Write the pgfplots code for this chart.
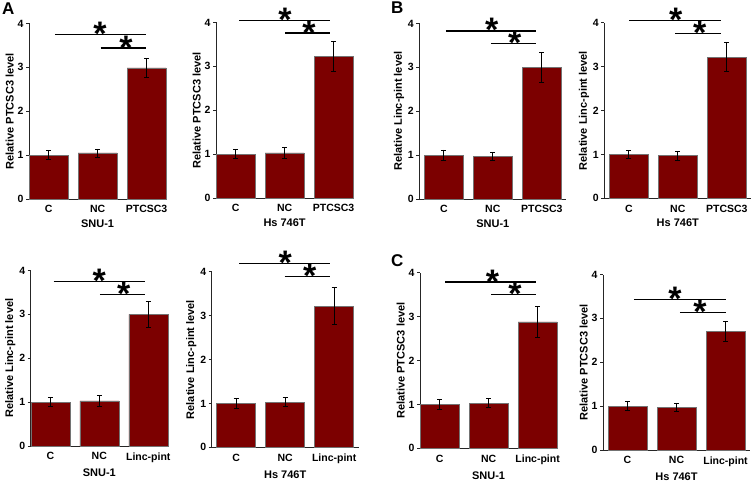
\documentclass[border=0pt]{standalone}
\usepackage{pgfplots}
\pgfplotsset{compat=1.18}
\usepackage{fontspec}
\setmainfont{Liberation Sans}
\definecolor{barred}{RGB}{124,0,0}
\pgfplotsset{
  panel/.style={
    scale only axis, height=175.5pt,
    ymin=0, ymax=4, ytick={0,1,2,3,4},
    xtick={0,1,2},
    axis x line*=bottom, axis y line*=left,
    axis line style={black!85, line width=0.9pt},
    tick align=outside,
    major tick length=3pt,
    x tick style={draw=none},
    y tick style={black!85, line width=0.8pt},
    clip=false,
    /pgf/number format/assume math mode=true,
    ticklabel style={font=\fontsize{10.5}{10.5}\selectfont\bfseries},
    yticklabel style={xshift=1pt},
    label style={font=\fontsize{11}{11}\selectfont\bfseries},
    ylabel style={yshift=-3pt},
    xlabel style={yshift=0pt},
  },
  narrow/.style={xmin=-0.4, xmax=2.4, width=137.2pt},
  wide/.style={xmin=-0.5, xmax=2.5, width=147pt},
  bars/.style={ybar, bar width=39pt, fill=barred, draw=black!55, line width=0.5pt,
    error bars/.cd, y dir=both, y explicit,
    error bar style={black, line width=0.7pt},
    error mark options={rotate=90, mark size=2.5pt, line width=0.7pt, black}},
  sig/.style={black, line width=1.2pt, no marks},
}
\newcommand{\sigstar}[2]{\node[font=\fontsize{34}{34}\selectfont\bfseries, anchor=base, yshift=-11pt] at (axis cs:#1,#2) {*};}
\begin{document}
\begin{tikzpicture}
\useasboundingbox (0pt,0pt) rectangle (753pt,492pt);
% Panel letters
\node[font=\fontsize{17}{17}\selectfont\bfseries, anchor=north west, inner sep=0pt] at (2pt,489pt) {A};
\node[font=\fontsize{17}{17}\selectfont\bfseries, anchor=north west, inner sep=0pt] at (391pt,490pt) {B};
\node[font=\fontsize{17}{17}\selectfont\bfseries, anchor=north west, inner sep=0pt] at (391pt,238pt) {C};

% P1
\begin{axis}[panel, narrow, at={(29pt,293pt)}, anchor=south west,
  xticklabels={C,NC,PTCSC3}, xlabel={SNU-1}, ylabel={Relative PTCSC3 level}]
\addplot[bars] coordinates {(0,1.00) +- (0,0.10) (1,1.05) +- (0,0.09) (2,2.99) +- (0,0.22)};
\addplot[sig] coordinates {(0.13,3.75) (1.99,3.75)};
\addplot[sig] coordinates {(1.06,3.44) (1.99,3.44)};
\sigstar{1.05}{3.75}
\sigstar{1.58}{3.44}
\end{axis}

% P2
\begin{axis}[panel, narrow, at={(216pt,294pt)}, anchor=south west,
  xticklabels={C,NC,PTCSC3}, xlabel={Hs 746T}, ylabel={Relative PTCSC3 level}]
\addplot[bars] coordinates {(0,1.00) +- (0,0.10) (1,1.03) +- (0,0.12) (2,3.23) +- (0,0.34)};
\addplot[sig] coordinates {(0.07,4.05) (1.93,4.05)};
\addplot[sig] coordinates {(1.01,3.76) (1.93,3.76)};
\sigstar{1.01}{4.05}
\sigstar{1.50}{3.76}
\end{axis}

% P3
\begin{axis}[panel, wide, at={(419.3pt,293pt)}, anchor=south west,
  xticklabels={C,NC,PTCSC3}, xlabel={SNU-1}, ylabel={Relative Linc-pint level}]
\addplot[bars] coordinates {(0,1.00) +- (0,0.12) (1,0.97) +- (0,0.10) (2,3.00) +- (0,0.34)};
\addplot[sig] coordinates {(0.04,3.83) (1.88,3.83)};
\addplot[sig] coordinates {(0.96,3.54) (1.88,3.54)};
\sigstar{0.98}{3.83}
\sigstar{1.45}{3.54}
\end{axis}

% P4
\begin{axis}[panel, wide, at={(604.3pt,293.7pt)}, anchor=south west,
  xticklabels={C,NC,PTCSC3}, xlabel={Hs 746T}, ylabel={Relative Linc-pint level}]
\addplot[bars] coordinates {(0,1.00) +- (0,0.10) (1,0.97) +- (0,0.10) (2,3.22) +- (0,0.33)};
\addplot[sig] coordinates {(0.01,4.05) (1.88,4.05)};
\addplot[sig] coordinates {(0.95,3.76) (1.88,3.76)};
\sigstar{0.96}{4.05}
\sigstar{1.45}{3.76}
\end{axis}

% P5
\begin{axis}[panel, narrow, at={(30.7pt,46pt)}, anchor=south west,
  xticklabels={C,NC,Linc-pint}, xlabel={SNU-1}, ylabel={Relative Linc-pint level}]
\addplot[bars] coordinates {(0,1.00) +- (0,0.10) (1,1.03) +- (0,0.13) (2,3.00) +- (0,0.29)};
\addplot[sig] coordinates {(0.07,3.75) (1.93,3.75)};
\addplot[sig] coordinates {(1.01,3.46) (1.93,3.46)};
\sigstar{1.00}{3.75}
\sigstar{1.50}{3.46}
\end{axis}

% P6
\begin{axis}[panel, wide, at={(211.7pt,44.7pt)}, anchor=south west,
  xticklabels={C,NC,Linc-pint}, xlabel={Hs 746T}, ylabel={Relative Linc-pint level}]
\addplot[bars] coordinates {(0,1.00) +- (0,0.12) (1,1.03) +- (0,0.10) (2,3.22) +- (0,0.42)};
\addplot[sig] coordinates {(0.06,4.19) (1.91,4.19)};
\addplot[sig] coordinates {(0.99,3.90) (1.91,3.90)};
\sigstar{1.00}{4.19}
\sigstar{1.50}{3.90}
\end{axis}

% P7
\begin{axis}[panel, narrow, at={(420pt,43.7pt)}, anchor=south west,
  xticklabels={C,NC,Linc-pint}, xlabel={SNU-1}, ylabel={Relative PTCSC3 level}]
\addplot[bars] coordinates {(0,1.00) +- (0,0.11) (1,1.03) +- (0,0.10) (2,2.88) +- (0,0.35)};
\addplot[sig] coordinates {(0.12,3.79) (1.97,3.79)};
\addplot[sig] coordinates {(1.05,3.51) (1.97,3.51)};
\sigstar{1.08}{3.79}
\sigstar{1.54}{3.51}
\end{axis}

% P8
\begin{axis}[panel, wide, at={(603pt,42pt)}, anchor=south west,
  xticklabels={C,NC,Linc-pint}, xlabel={Hs 746T}, ylabel={Relative PTCSC3 level}]
\addplot[bars] coordinates {(0,1.00) +- (0,0.10) (1,0.97) +- (0,0.10) (2,2.70) +- (0,0.23)};
\addplot[sig] coordinates {(0.13,3.43) (2.00,3.43)};
\addplot[sig] coordinates {(1.07,3.14) (2.00,3.14)};
\sigstar{0.97}{3.43}
\sigstar{1.48}{3.14}
\end{axis}
\end{tikzpicture}
\end{document}
